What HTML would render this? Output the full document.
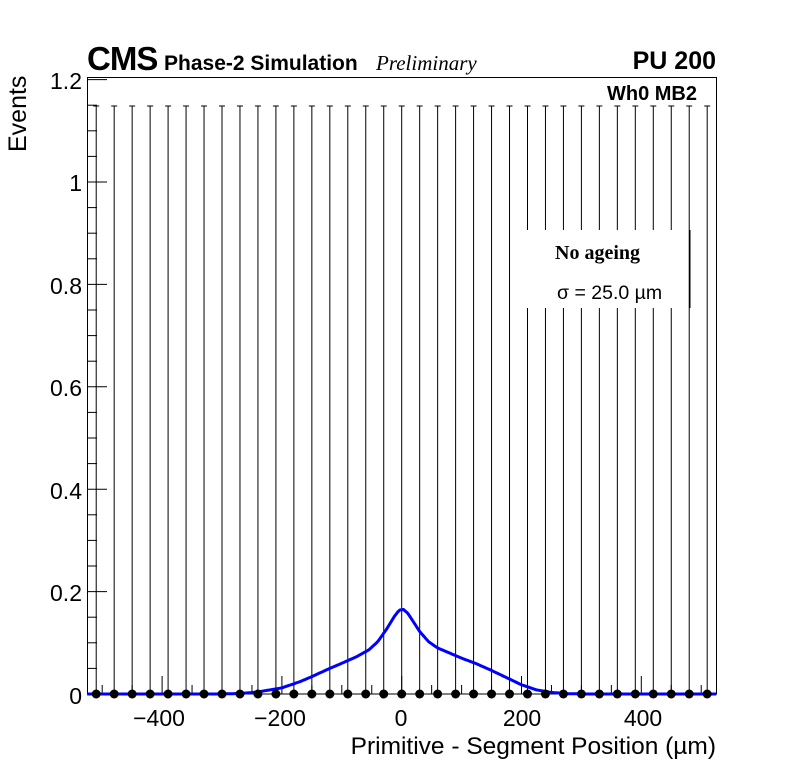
<!DOCTYPE html>
<html><head><meta charset="utf-8"><style>
html,body{margin:0;padding:0;background:#fff}
svg{display:block}
text{font-family:"Liberation Sans",sans-serif}
</style></head><body>
<svg id="s" width="796" height="772" viewBox="0 0 796 772" xmlns="http://www.w3.org/2000/svg">
<rect width="796" height="772" fill="#fff"/>
<g id="bars" stroke="#000" stroke-width="1"></g>
<rect x="518" y="230" width="168" height="78" fill="#fff"/>
<line x1="690" y1="230" x2="690" y2="308" stroke="#000"/>
<g id="ticks" stroke="#000" stroke-width="1"></g>
<rect x="87.5" y="77.5" width="629" height="616.5" fill="none" stroke="#000" stroke-width="1"/>
<polyline id="curve" fill="none" stroke="#0000ff" stroke-width="3" stroke-linejoin="round"/>
<g id="pts" fill="#000"></g>
<g font-size="23" text-anchor="end" fill="#000">
<text x="82" y="89">1.2</text><text x="82" y="191">1</text><text x="82" y="294">0.8</text>
<text x="82" y="396">0.6</text><text x="82" y="499">0.4</text><text x="82" y="601">0.2</text><text x="82" y="704">0</text>
</g>
<g font-size="23" text-anchor="middle" fill="#000">
<text x="159" y="726">−400</text><text x="280" y="726">−200</text><text x="401" y="726">0</text>
<text x="522" y="726">200</text><text x="643" y="726">400</text>
</g>
<text x="716" y="754" font-size="24.5" text-anchor="end">Primitive - Segment Position (µm)</text>
<text transform="translate(26,152) rotate(-90)" font-size="25">Events</text>
<text x="87" y="70" font-size="33" font-weight="bold" letter-spacing="-1">CMS</text>
<text x="164" y="70" font-size="21" font-weight="bold">Phase-2 Simulation</text>
<text x="376" y="70" font-size="21" font-style="italic" style="font-family:'Liberation Serif',serif">Preliminary</text>
<text x="716" y="69" font-size="25" font-weight="bold" text-anchor="end">PU 200</text>
<text x="697" y="100" font-size="20" font-weight="bold" text-anchor="end">Wh0 MB2</text>
<text x="555" y="259" font-size="20" font-weight="bold" style="font-family:'Liberation Serif',serif">No ageing</text>
<text x="557" y="299" font-size="19.5">σ = 25.0 µm</text>
</svg>
<script>
var ns="http://www.w3.org/2000/svg";
function el(p,t,a){var e=document.createElementNS(ns,t);for(var k in a)e.setAttribute(k,a[k]);p.appendChild(e);}
var X0=401.7,S=0.599,Y0=694,YS=512;
function px(v){return X0+v*S} function py(v){return Y0-v*YS}
var bars=document.getElementById('bars'),pts=document.getElementById('pts');
for(var i=-17;i<=17;i++){var x=X0+i*17.97;
 var inBox=(x>520&&x<686);
 if(inBox){el(bars,'line',{x1:x,y1:106,x2:x,y2:230});el(bars,'line',{x1:x,y1:308,x2:x,y2:694});}
 else el(bars,'line',{x1:x,y1:106,x2:x,y2:694});
 el(bars,'line',{x1:x-3,y1:106,x2:x+3,y2:106});
 el(pts,'circle',{cx:x,cy:694,r:4.5});}
var tk=document.getElementById('ticks');
for(var v=0;v<=1.2001;v+=0.05){var y=py(v);var maj=Math.abs(v*5-Math.round(v*5))<1e-6;
 el(tk,'line',{x1:87,y1:y,x2:maj?107:97,y2:y});}
for(var u=-500;u<=500;u+=50){var x=px(u);var maj=(u%200===0);
 el(tk,'line',{x1:x,y1:694,x2:x,y2:maj?676:685});}
var d=[[-525,0],[-300,0],[-270,0.001],[-240,0.004],[-200,0.012],[-170,0.024],[-150,0.034],[-120,0.05],[-100,0.06],[-75,0.073],[-55,0.086],[-40,0.102],[-25,0.127],[-12,0.152],[-4,0.164],[3,0.165],[10,0.158],[20,0.14],[30,0.122],[45,0.102],[60,0.09],[80,0.08],[100,0.07],[125,0.059],[150,0.046],[175,0.032],[200,0.018],[225,0.008],[250,0.003],[280,0.0005],[310,0],[525,0]];
function interp(v){for(var j=0;j<d.length-1;j++){if(v<=d[j+1][0]){var a=d[j],b=d[j+1];return a[1]+(b[1]-a[1])*(v-a[0])/(b[0]-a[0]);}}return 0;}
var s=[];for(var v=-525;v<=525;v+=3){s.push(px(v).toFixed(1)+','+py(interp(v)).toFixed(1));}
document.getElementById('curve').setAttribute('points',s.join(' '));
</script>
</body></html>
